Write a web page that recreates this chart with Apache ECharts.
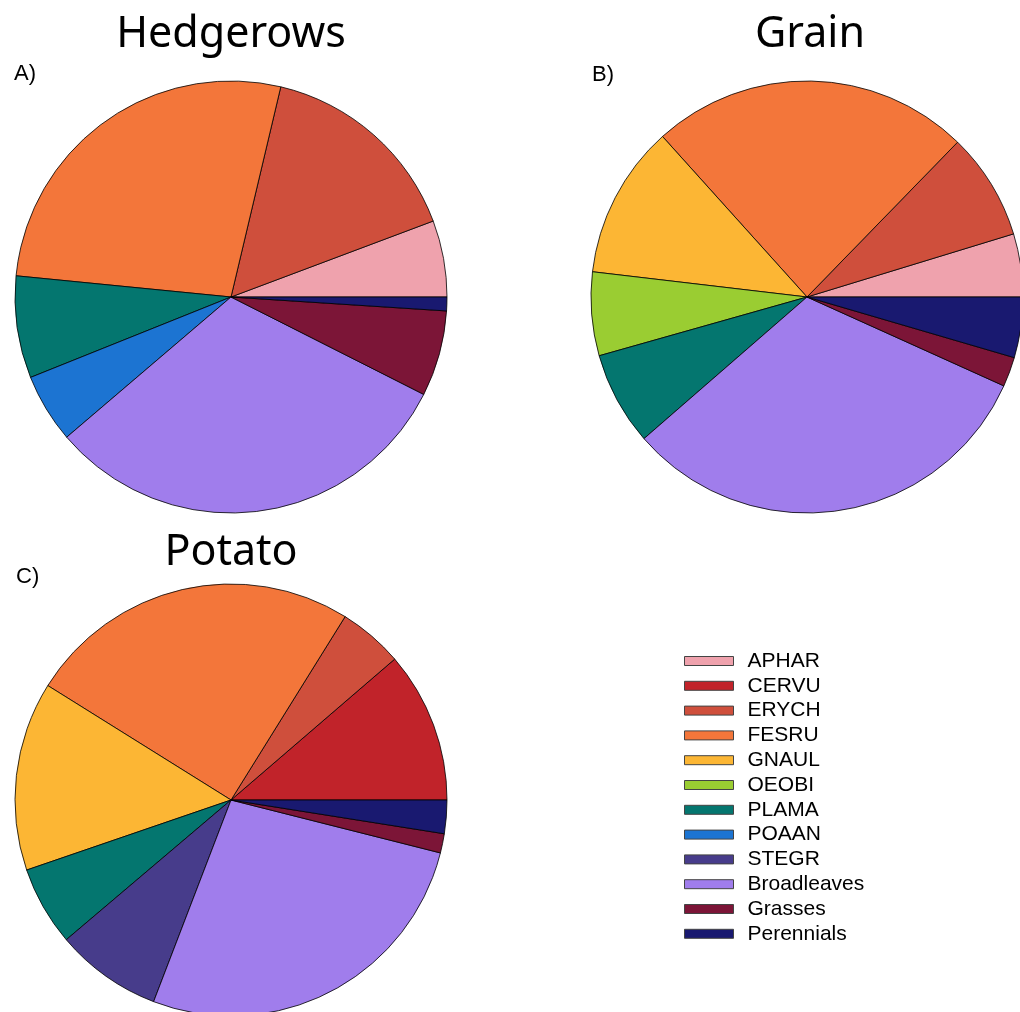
<!DOCTYPE html>
<html>
<head>
<meta charset="utf-8">
<script src="https://cdn.jsdelivr.net/npm/echarts@6/dist/echarts.min.js"></script>
<style>
  html, body { margin: 0; padding: 0; background: #fff; }
  #chart { width: 1020px; height: 1012px; }
</style>
</head>
<body>
<div id="chart"></div>
<script>
// Species groups, in drawing order (counter-clockwise from 3 o'clock)
const categories = ['APHAR', 'CERVU', 'ERYCH', 'FESRU', 'GNAUL', 'OEOBI', 'PLAMA', 'POAAN', 'STEGR', 'Broadleaves', 'Grasses', 'Perennials'];
const colors = ['#EFA2AD', '#C1232A', '#CF4F3C', '#F3763A', '#FCB634', '#9ACD32', '#04766F', '#1C74D2', '#473C8B', '#A07DEC', '#7C1537', '#191970'];

// Share of each group (%) per habitat
const hedgerows = [5.72, 0, 15.58, 27.14, 0, 0, 7.64, 5.17, 0, 31.31, 6.42, 1.03];
const grain     = [4.72, 0, 8.00, 23.94, 11.47, 6.25, 7.00, 0, 0, 31.86, 2.22, 4.53];
const potato    = [0, 11.31, 4.83, 24.97, 14.14, 0, 5.94, 0, 7.97, 26.89, 1.44, 2.50];

const panelTitles = ['Hedgerows', 'Grain', 'Potato'];
const panelTags = ['A)', 'B)', 'C)'];

const pieLayout = [
  { center: [231, 297], title: [231, 35], tag: [14, 74] },
  { center: [807, 297], title: [810, 35], tag: [592, 75] },
  { center: [231, 800], title: [231, 553], tag: [16, 577] }
];

function toItems(values) {
  const items = [];
  values.forEach(function (v, i) {
    if (v > 0) {
      items.push({ name: categories[i], value: v, itemStyle: { color: colors[i] } });
    }
  });
  return items;
}

const seriesValues = [hedgerows, grain, potato];

const series = seriesValues.map(function (vals, k) {
  return {
    type: 'pie',
    name: panelTitles[k],
    center: pieLayout[k].center,
    radius: 216,
    startAngle: 0,
    clockwise: false,
    avoidLabelOverlap: false,
    label: { show: false },
    labelLine: { show: false },
    emphasis: { disabled: true },
    itemStyle: { borderColor: '#000', borderWidth: 0.8 },
    data: toItems(vals)
  };
});

const graphics = [];
pieLayout.forEach(function (p, k) {
  graphics.push({
    type: 'text', x: p.title[0], y: p.title[1],
    style: { text: panelTitles[k], font: '43px "Noto Sans"', fill: '#000', align: 'center', verticalAlign: 'middle' }
  });
  graphics.push({
    type: 'text', x: p.tag[0], y: p.tag[1],
    style: { text: panelTags[k], font: '22px "Liberation Sans"', fill: '#000', align: 'left', verticalAlign: 'middle' }
  });
});

const chart = echarts.init(document.getElementById('chart'), null, { renderer: 'canvas' });
chart.setOption({
  animation: false,
  backgroundColor: '#fff',
  legend: {
    orient: 'vertical',
    left: 684,
    top: 649,
    padding: 0,
    icon: 'rect',
    itemWidth: 49,
    itemHeight: 9,
    itemGap: 0.8,
    selectedMode: false,
    data: categories,
    itemStyle: { borderColor: '#444', borderWidth: 1 },
    textStyle: {
      fontFamily: 'Liberation Sans',
      fontSize: 21,
      color: '#000',
      lineHeight: 24,
      padding: [0, 0, 0, 9]
    }
  },
  graphic: graphics,
  series: series
});
</script>
</body>
</html>
